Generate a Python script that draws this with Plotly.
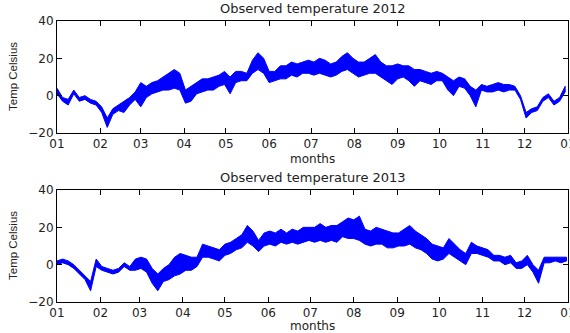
import plotly.graph_objects as go
import pandas as pd

# Sampling step (days) of the values
STEP_DAYS = 4

# Observed temperature 2012: low / high envelope every 4 days (deg C)
lo_2012 = [1, -3, -5, 1, -3, -2, -4, -5, -9, -17, -10, -8, -9, -5, -2, -6, -1, 1, 2, 3, 3, 4,
           3, -4, -3, 1, 2, 3, 3, 5, 6, 1, 7, 8, 8, 12, 14, 12, 7, 8, 9, 9, 11, 10,
           12, 12, 11, 12, 11, 10, 11, 13, 14, 12, 10, 11, 12, 12, 10, 8, 6, 9, 10, 8, 5, 8,
           7, 6, 8, 8, 3, 0, 5, 4, 0, -6, 3, 2, 2, 3, 2, 3, 3, -2, -12, -9, -8, -3, -1, -5, -3, 2]
hi_2012 = [4, -1, -2, 3, -1, 0, -2, -3, -6, -12, -7, -5, -3, -1, 2, 7, 5, 7, 8, 10, 12, 14,
           12, 3, 5, 7, 9, 9, 10, 11, 13, 10, 13, 13, 12, 19, 23, 20, 13, 13, 16, 16, 18, 17,
           18, 19, 18, 20, 19, 17, 18, 21, 23, 20, 18, 18, 20, 22, 18, 16, 16, 17, 16, 16, 14, 14,
           13, 12, 13, 12, 10, 8, 10, 9, 5, 3, 6, 5, 6, 7, 6, 6, 5, 0, -9, -7, -6, -1, 1, -3, -1, 5]

# Observed temperature 2013
lo_2013 = [0, 1, 0, -2, -5, -8, -14, -1, -3, -4, -5, -4, -1, -3, -3, -2, -4, -10, -14, -9, -8, -6,
           -5, -3, -3, -1, 4, 4, 3, 2, 5, 6, 8, 9, 12, 10, 7, 10, 11, 10, 12, 11, 12, 11,
           12, 13, 12, 13, 12, 13, 12, 15, 14, 14, 13, 11, 10, 11, 11, 9, 9, 10, 10, 11, 9, 8,
           6, 3, 2, 3, 6, 4, 2, 0, 6, 6, 5, 4, 2, 2, 0, 1, -2, -2, 0, -4, -10, 1, 1, 2, 1, 2]
hi_2013 = [2, 3, 2, 0, -3, -6, -9, 3, -1, -2, -3, -2, 1, -1, 3, 4, 3, -2, -5, -2, 0, 4,
           6, 5, 4, 4, 11, 10, 9, 8, 11, 12, 14, 16, 21, 18, 13, 17, 18, 17, 19, 17, 19, 18,
           20, 20, 20, 22, 20, 21, 21, 23, 25, 24, 26, 19, 18, 20, 19, 18, 17, 17, 19, 21, 18, 16,
           14, 11, 10, 9, 14, 11, 8, 6, 12, 10, 9, 8, 5, 5, 4, 5, 1, 2, 5, 0, -3, 4, 4, 4, 4, 4]

titles = ["Observed temperature 2012", "Observed temperature 2013"]
years = [2012, 2013]
tick_format = "%m"
x_label = "months"
y_label = "Temp Celsius"

BLUE = "#0000ff"


def band(year, lo, hi):
    start = pd.Timestamp(f"{year}-01-01")
    xs = [start + pd.Timedelta(days=STEP_DAYS * i) for i in range(len(lo))]
    return xs + xs[::-1], list(hi) + list(lo)[::-1]


fig = go.Figure()
series = [(lo_2012, hi_2012), (lo_2013, hi_2013)]
for k, (yr, (lo, hi)) in enumerate(zip(years, series)):
    xs, ys = band(yr, lo, hi)
    fig.add_trace(go.Scatter(
        x=xs, y=ys, mode="lines", fill="toself", fillcolor=BLUE,
        line=dict(color=BLUE, width=1),
        xaxis="x" if k == 0 else "x2",
        yaxis="y" if k == 0 else "y2",
        showlegend=False,
    ))

W, H = 570, 333
ML, MR, MT, MB = 57, 2, 21, 31
ph = H - MT - MB


def py(px):
    return (H - MB - px) / ph


FONT = "DejaVu Sans"
axis_common = dict(
    showline=True, linecolor="black", linewidth=1, mirror="ticks",
    ticks="inside", ticklen=5, tickcolor="black", showgrid=False, zeroline=False,
    tickfont=dict(family=FONT, size=12, color="#222"),
)

fig.update_layout(
    width=W, height=H,
    margin=dict(l=ML, r=MR, t=MT, b=MB, autoexpand=False),
    paper_bgcolor="white", plot_bgcolor="white",
    xaxis=dict(type="date", range=["2012-01-01", "2013-01-01 00:40"], tickformat=tick_format,
               dtick="M1", tick0="2012-01-01", domain=[0, 1], anchor="y",
               ticklabeloverflow="allow", **axis_common),
    yaxis=dict(range=[-20, 40], dtick=20, domain=[py(133), py(21)], anchor="x", **axis_common),
    xaxis2=dict(type="date", range=["2013-01-01", "2014-01-01 00:40"], tickformat=tick_format,
                dtick="M1", tick0="2013-01-01", domain=[0, 1], anchor="y2",
                ticklabeloverflow="allow", **axis_common),
    yaxis2=dict(range=[-20, 40], dtick=20, domain=[py(302), py(190)], anchor="x2", **axis_common),
)

font_t = dict(family=FONT, size=13, color="#222")
font_x = dict(family=FONT, size=12, color="#222")
ann = []
for title, ytit, ylab_c, xlab_y in [(titles[0], 8, 77, 158.5), (titles[1], 177, 246, 326)]:
    ann.append(dict(text=title, x=0.5, y=py(ytit), xref="paper", yref="paper",
                    showarrow=False, xanchor="center", yanchor="middle", font=font_t))
    ann.append(dict(text=x_label, x=0.5, y=py(xlab_y), xref="paper", yref="paper",
                    showarrow=False, xanchor="center", yanchor="middle", font=font_x))
    ann.append(dict(text=y_label, x=(13 - ML) / (W - ML - MR), y=py(ylab_c), xref="paper",
                    yref="paper", showarrow=False, xanchor="center", yanchor="middle",
                    textangle=-90,
                    font=dict(family="Liberation Sans, Arial", size=11.5, color="#222")))
fig.update_layout(annotations=ann)

fig.write_html("out.html")
